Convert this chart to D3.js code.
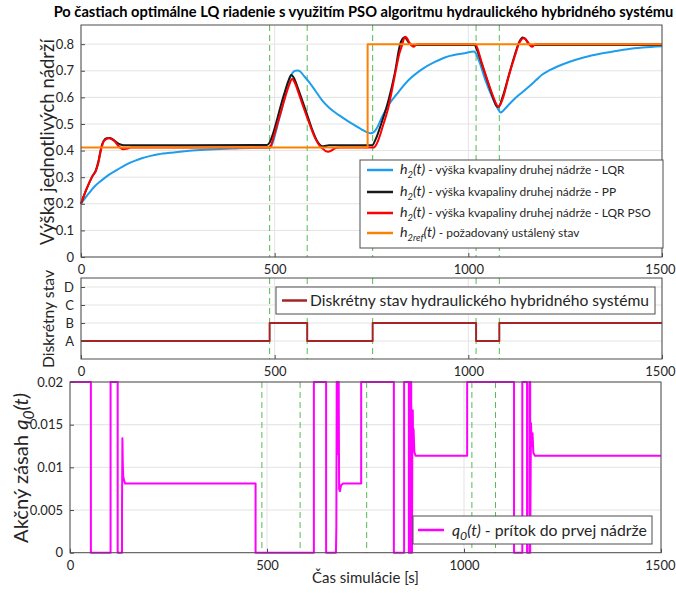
<!DOCTYPE html>
<html><head><meta charset="utf-8">
<script src="https://cdn.jsdelivr.net/npm/d3@7"></script>
<style>
body{margin:0;background:#fff;}
svg{display:block;font-family:Lato,"Open Sans",sans-serif;}
</style></head>
<body><svg id="c" width="676" height="593"></svg>
<script>
// ---------- DATA ----------
const titleText = "Po častiach optimálne LQ riadenie s využitím PSO algoritmu hydraulického hybridného systému";
const xTicks = [0, 500, 1000, 1500];
const hTicks = [0, 0.1, 0.2, 0.3, 0.4, 0.5, 0.6, 0.7, 0.8];
const stateTicks = [1, 2, 3, 4];
const stateLabels = ["A", "B", "C", "D"];
const q0Ticks = [0, 0.005, 0.01, 0.015, 0.02];
const q0TickLabels = ["0", "0.005", "0.01", "0.015", "0.02"];
const switchTimes = [487, 584, 753, 1020, 1080];

// reference h2ref(t)
const refSeries = [[0,0.412],[740,0.412],[740,0.8],[1500,0.8]];
// LQR (blue)
const lqrSeries = [[0,0.2],[10,0.22],[20,0.239],[35,0.265],[54,0.289],[70,0.307],[89,0.324],[105,0.338],[123,0.352],[140,0.362],[157,0.371],[180,0.38],[200,0.386],[239,0.393],[280,0.399],[320,0.403],[360,0.406],[400,0.408],[440,0.41],[489,0.411],[495,0.43],[502,0.465],[510,0.51],[519,0.559],[527,0.61],[536,0.659],[545,0.69],[553,0.70],[560,0.701],[566,0.697],[576,0.68],[588,0.659],[605,0.625],[622,0.59],[640,0.562],[665,0.534],[690,0.51],[708,0.494],[725,0.479],[740,0.468],[748,0.465],[755,0.468],[762,0.48],[777,0.525],[794,0.571],[820,0.621],[846,0.665],[880,0.705],[915,0.734],[941,0.751],[966,0.76],[990,0.766],[1014,0.772],[1018,0.768],[1027,0.74],[1044,0.665],[1061,0.603],[1072,0.568],[1078,0.553],[1083,0.543],[1090,0.55],[1096,0.559],[1108,0.578],[1121,0.597],[1140,0.62],[1156,0.64],[1175,0.665],[1190,0.685],[1210,0.702],[1230,0.716],[1260,0.733],[1300,0.751],[1340,0.764],[1380,0.774],[1411,0.781],[1450,0.787],[1500,0.792]];
// PP (black)
const ppSeries = [[0,0.2],[10,0.24],[20,0.275],[30,0.305],[38,0.325],[45,0.36],[52,0.41],[58,0.435],[66,0.446],[74,0.447],[82,0.442],[90,0.433],[98,0.425],[106,0.421],[115,0.42],[480,0.421],[487,0.43],[495,0.46],[505,0.51],[515,0.565],[525,0.615],[535,0.66],[543,0.684],[550,0.672],[560,0.635],[572,0.585],[585,0.53],[598,0.475],[610,0.435],[618,0.42],[626,0.416],[640,0.42],[752,0.42],[760,0.44],[775,0.5],[794,0.59],[810,0.69],[824,0.80],[830,0.82],[836,0.826],[842,0.815],[848,0.802],[855,0.797],[1016,0.797],[1022,0.78],[1035,0.725],[1052,0.65],[1066,0.59],[1074,0.566],[1079,0.565],[1087,0.595],[1104,0.68],[1121,0.765],[1132,0.81],[1140,0.825],[1147,0.82],[1154,0.805],[1160,0.797],[1500,0.797]];
// LQR PSO (red)
const psoSeries = [[0,0.2],[10,0.24],[20,0.275],[30,0.305],[38,0.322],[45,0.355],[52,0.405],[58,0.433],[65,0.443],[72,0.446],[80,0.442],[88,0.433],[95,0.42],[102,0.41],[110,0.405],[118,0.407],[126,0.41],[130,0.412],[484,0.412],[490,0.418],[497,0.45],[507,0.50],[517,0.55],[527,0.60],[537,0.645],[545,0.669],[552,0.655],[562,0.615],[575,0.56],[590,0.5],[605,0.445],[618,0.415],[626,0.405],[632,0.398],[638,0.396],[645,0.399],[652,0.405],[660,0.411],[670,0.412],[756,0.412],[764,0.427],[780,0.495],[794,0.565],[810,0.68],[822,0.765],[829,0.797],[833,0.818],[837,0.828],[842,0.822],[846,0.81],[850,0.802],[855,0.793],[859,0.79],[864,0.797],[870,0.8],[1018,0.8],[1022,0.79],[1035,0.728],[1052,0.653],[1065,0.6],[1072,0.575],[1077,0.565],[1082,0.572],[1090,0.6],[1104,0.678],[1121,0.759],[1130,0.8],[1136,0.815],[1143,0.822],[1150,0.815],[1156,0.803],[1160,0.795],[1165,0.79],[1170,0.797],[1176,0.8],[1500,0.8]];
// discrete state (A=1, B=2)
const stateT = [0, 487, 584, 753, 1020, 1080, 1500];
const stateV = [1, 2, 1, 2, 1, 2, 2];
// q0(t)
const q0Series = [[0,0.02],[53,0.02],[53,0],[103,0],[103,0.02],[121,0.02],[121,0],[132,0],[132,0.0053],[133,0.0134],[134,0.0105],[135,0.009],[137,0.0085],[140,0.0081],[471,0.0081],[471,0],[619,0],[619,0.02],[650,0.02],[650,0],[675,0],[676,0.003],[677,0.02],[680,0.02],[681,0.0115],[682,0.02],[683,0.0075],[685,0.0072],[688,0.0079],[693,0.0081],[739,0.0081],[739,0.02],[822,0.02],[822,0],[848,0],[848,0.02],[860,0.02],[860,0],[864,0],[864,0.02],[866,0.02],[866,0],[868,0],[869,0.0145],[870,0.0167],[871,0.012],[872,0.0145],[874,0.0118],[877,0.01135],[1008,0.01135],[1008,0.02],[1127,0.02],[1127,0],[1148,0],[1148,0.02],[1160,0.02],[1160,0],[1166,0],[1166,0.02],[1168,0.02],[1168,0],[1170,0.0152],[1172,0.0125],[1174,0.014],[1176,0.0117],[1180,0.01135],[1500,0.01135]];

// ---------- STYLE ----------
const C = {blue:"#1f9ded", black:"#1a1a1a", red:"#ff0000", orange:"#ff8000", mag:"#ff00ff", green:"#55bb55", state:"#a52424", grid:"#e3e3e3", axis:"#4d4d4d", text:"#262626"};
const svg = d3.select("#c");

function panel(box, yDomain){
  const x = d3.scaleLinear().domain([0,1500]).range([box.l, box.r]);
  const y = d3.scaleLinear().domain(yDomain).range([box.b, box.t]);
  return {x, y, box};
}
function grid(p, yt){
  const g = svg.append("g");
  g.selectAll(".gx").data(xTicks).join("line").attr("x1",d=>p.x(d)).attr("x2",d=>p.x(d)).attr("y1",p.box.t).attr("y2",p.box.b).attr("stroke",C.grid).attr("stroke-width",1);
  g.selectAll(".gy").data(yt).join("line").attr("y1",d=>p.y(d)).attr("y2",d=>p.y(d)).attr("x1",p.box.l).attr("x2",p.box.r).attr("stroke",C.grid).attr("stroke-width",1);
}
function switches(p){
  svg.append("g").selectAll("line").data(switchTimes).join("line")
    .attr("x1",d=>p.x(d)).attr("x2",d=>p.x(d)).attr("y1",p.box.t).attr("y2",p.box.b)
    .attr("stroke",C.green).attr("stroke-width",1).attr("stroke-dasharray","6,4");
}
function frame(p, yt, ylab, fs){
  const b = p.box;
  svg.append("rect").attr("x",b.l).attr("y",b.t).attr("width",b.r-b.l).attr("height",b.b-b.t).attr("fill","none").attr("stroke",C.axis).attr("stroke-width",1);
  const ax = svg.append("g").attr("transform",`translate(0,${b.b})`).call(d3.axisBottom(p.x).tickValues(xTicks).tickFormat(d3.format("d")).tickSizeInner(-4).tickSizeOuter(0).tickPadding(8));
  const ay = svg.append("g").attr("transform",`translate(${b.l},0)`).call(d3.axisLeft(p.y).tickValues(yt).tickFormat((d,i)=>ylab[i]).tickSizeInner(-4).tickSizeOuter(0).tickPadding(7));
  [ax,ay].forEach(a=>{a.select(".domain").remove();a.selectAll("line").attr("stroke",C.axis);a.selectAll("text").attr("fill",C.text).style("font-size",fs+"px").style("font-family","Lato,sans-serif");});
  // keep the last x label inside the picture
  ax.selectAll(".tick text").filter(d=>d===1500).attr("text-anchor","end").attr("dx", (675-b.r)+"px");
}
function curve(p, data, color, w, cv){
  svg.append("path").datum(data).attr("fill","none").attr("stroke",color).attr("stroke-width",w).attr("stroke-linejoin","round")
    .attr("d", d3.line().x(d=>p.x(d[0])).y(d=>p.y(d[1])).curve(cv||d3.curveMonotoneX));
}

// ---------- TOP PANEL ----------
const P1 = panel({l:81,r:662,t:25,b:257},[0,0.872]);
grid(P1, hTicks);
switches(P1);
curve(P1, lqrSeries, C.blue, 2);
curve(P1, ppSeries, C.black, 2);
curve(P1, psoSeries, C.red, 2);
curve(P1, refSeries, C.orange, 2, d3.curveLinear);
frame(P1, hTicks, hTicks.map(d=>d===0?"0":d3.format(".1f")(d)), 13);

// ---------- MIDDLE PANEL ----------
const P2 = panel({l:81,r:662,t:278,b:359},[0,4.5]);
grid(P2, stateTicks);
switches(P2);
const stateData = stateT.map((t,i)=>[t,stateV[i]]);
curve(P2, stateData, C.state, 2, d3.curveStepAfter);
frame(P2, stateTicks, stateLabels, 13);

// ---------- BOTTOM PANEL ----------
const P3 = panel({l:70,r:661,t:382,b:552.7},[0,0.02]);
grid(P3, q0Ticks);
switches(P3);
curve(P3, q0Series, C.mag, 2, d3.curveLinear);
frame(P3, q0Ticks, q0TickLabels, 13);

// ---------- TEXT HELPERS ----------
function richText(g, parts, fs, attrs, weight){
  const t = g.append("text").attr("fill",C.text).style("font-size",fs+"px").style("font-weight",weight||"normal");
  Object.entries(attrs||{}).forEach(([k,v])=>t.attr(k,v));
  let shifted = false;
  parts.forEach(pt=>{
    const s = t.append("tspan").text(pt.t);
    const f = pt.sub ? fs*0.78 : fs*(pt.big||1);
    s.style("font-size",f+"px");
    if(pt.i) s.style("font-style","italic");
    if(pt.sub && !shifted){ s.attr("dy",fs*0.3); shifted = true; }
    else if(!pt.sub && shifted){ s.attr("dy",-fs*0.3); shifted = false; }
  });
  return t;
}
function fitted(g, parts, fs0, target, attrs, weight){
  const probe = richText(g, parts, fs0, attrs, weight);
  const w = probe.node().getComputedTextLength();
  probe.remove();
  return richText(g, parts, fs0*target/w, attrs, weight);
}

// title
fitted(svg, [{t:titleText}], 14, 620, {x:363.5, y:17, "text-anchor":"middle"}, "bold").attr("fill","#000");

// y labels
function ylabel(x, yc, parts, fs, target){
  const g = svg.append("g").attr("transform",`translate(${x},${yc}) rotate(-90)`);
  fitted(g, parts, fs, target, {x:0, y:0, "text-anchor":"middle"});
}
ylabel(54, 142, [{t:"Výška jednotlivých nádrží"}], 16, 206);
ylabel(54, 319, [{t:"Diskrétny stav"}], 16, 98);
ylabel(28, 468, [{t:"Akčný zásah  "},{t:"q",i:1},{t:"0",i:1,sub:1},{t:"(t)",i:1}], 16, 150);
svg.append("text").attr("x",365.5).attr("y",583).attr("text-anchor","middle").attr("fill",C.text).style("font-size","15px").text("Čas simulácie [s]");

// legends
function legend(box, rows, fs0, target){
  svg.append("rect").attr("x",box.x).attr("y",box.y).attr("width",box.w).attr("height",box.h).attr("fill","#fff").attr("stroke",C.axis).attr("stroke-width",1);
  let fs = fs0;
  if(target){
    const widths = rows.map(r=>{const p = richText(svg, r.parts, fs0, {x:0,y:-50}); const w = p.node().getComputedTextLength(); p.remove(); return w;});
    fs = fs0*target/d3.max(widths);
  }
  rows.forEach(r=>{
    svg.append("line").attr("x1",r.lx).attr("x2",r.lx+r.lw).attr("y1",r.y).attr("y2",r.y).attr("stroke",r.c).attr("stroke-width",2.5);
    richText(svg, r.parts, fs, {x:r.tx, y:r.y+fs*0.36});
  });
}
const hParts = (sfx)=>[{t:"h",i:1,big:1.2},{t:"2",i:1,sub:1},{t:"(t)",i:1,big:1.2},{t:sfx}];
legend({x:360,y:160,w:303,h:88},[
  {c:C.blue,y:170,lx:367,lw:26,tx:400,parts:hParts(" - výška kvapaliny druhej nádrže - LQR")},
  {c:C.black,y:192,lx:367,lw:26,tx:400,parts:hParts(" - výška kvapaliny druhej nádrže - PP")},
  {c:C.red,y:213,lx:367,lw:26,tx:400,parts:hParts(" - výška kvapaliny druhej nádrže - LQR PSO")},
  {c:C.orange,y:233,lx:367,lw:26,tx:400,parts:[{t:"h",i:1,big:1.2},{t:"2ref",i:1,sub:1},{t:"(t)",i:1,big:1.2},{t:" - požadovaný ustálený stav"}]}
], 12.5, 251);
legend({x:276,y:287,w:379,h:27},[
  {c:C.state,y:300.5,lx:282,lw:25,tx:310,parts:[{t:"Diskrétny stav hydraulického hybridného systému"}]}
], 15, 339);
legend({x:413,y:516,w:239,h:28},[
  {c:C.mag,y:530,lx:418,lw:26,tx:452,parts:[{t:"q",i:1},{t:"0",i:1,sub:1},{t:"(t)",i:1},{t:" - prítok do prvej nádrže"}]}
], 15, 195);
</script></body></html>
